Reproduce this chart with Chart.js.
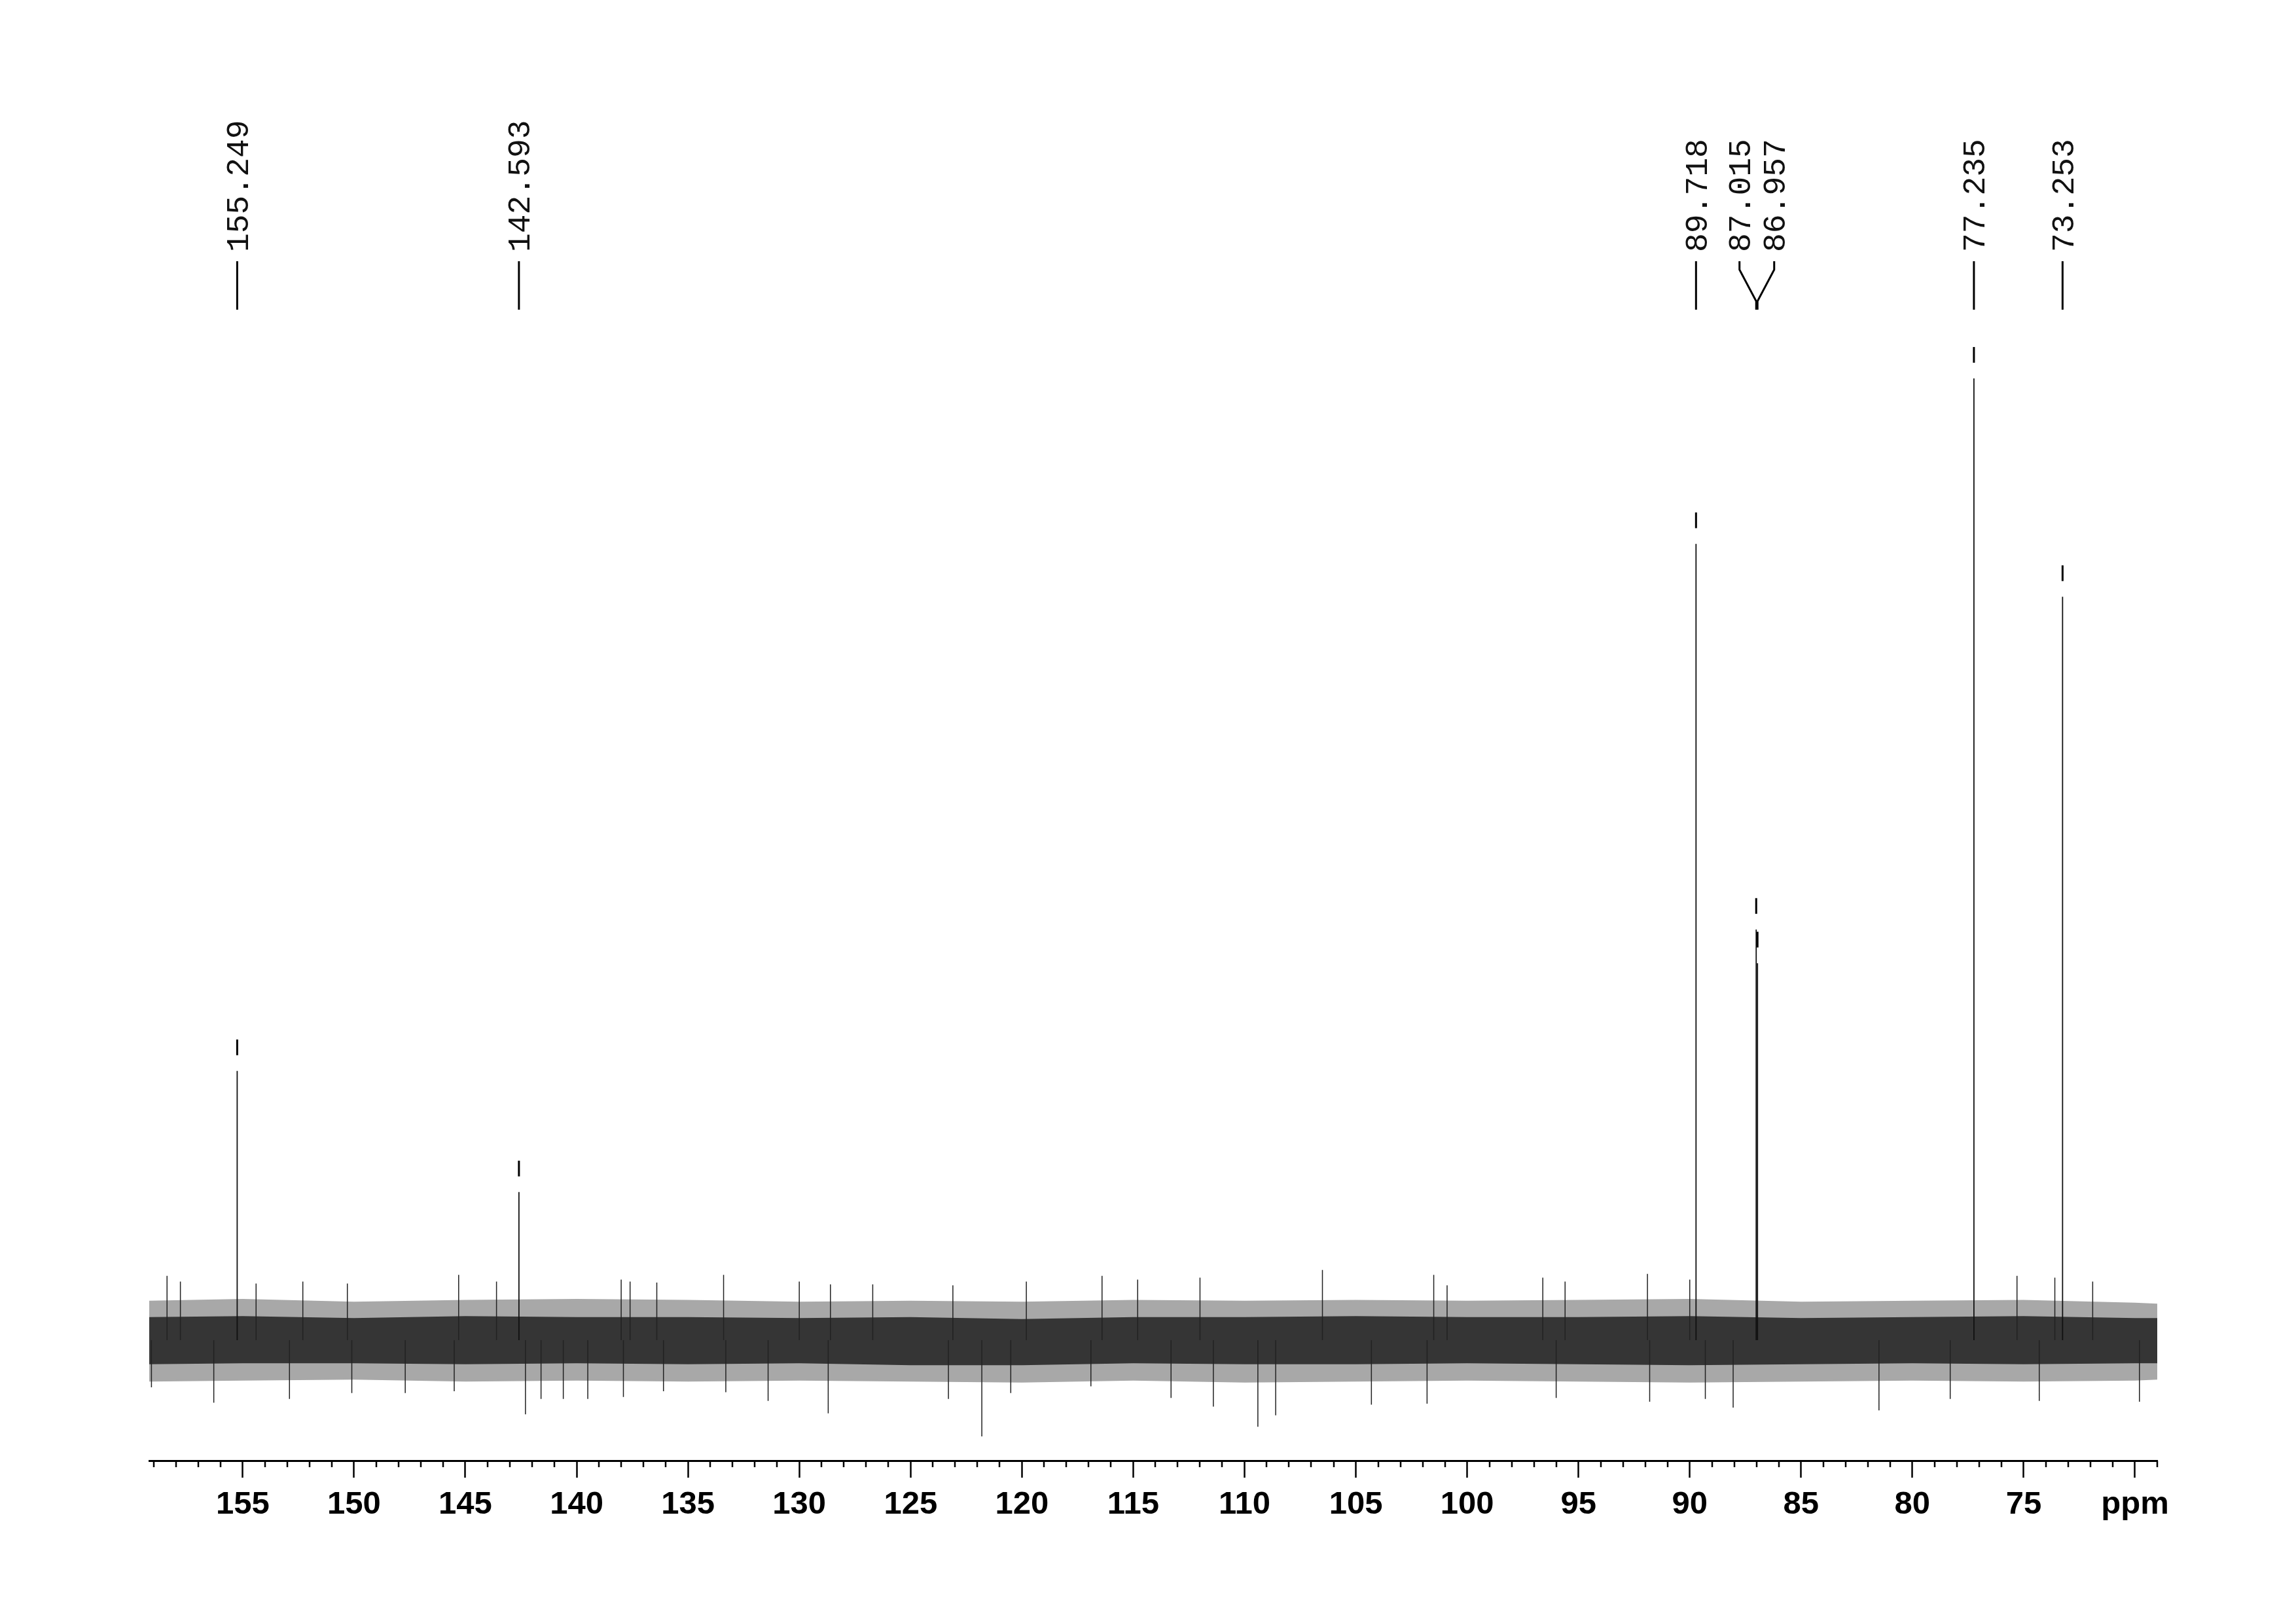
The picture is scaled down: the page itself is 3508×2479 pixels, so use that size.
<!DOCTYPE html>
<html>
<head>
<meta charset="utf-8">
<script src="https://cdn.jsdelivr.net/npm/chart.js@4.4.1/dist/chart.umd.min.js"></script>
<style>
  html, body { margin: 0; padding: 0; background: #fff; }
  canvas { display: block; }
</style>
</head>
<body>
<canvas id="nmr" width="3508" height="2479"></canvas>
<script>
// picked peaks (ppm) and their heights, 77.235 peak = 100
const peakPpm = [155.249, 142.593, 89.718, 87.015, 86.957, 77.235, 73.253];
const peakHeight = [28.0, 15.4, 82.8, 42.7, 39.2, 100, 77.3];
const peakLabels = ["155.249", "142.593", "89.718", "87.015", "86.957", "77.235", "73.253"];

// baseline noise envelope, read every 5 ppm
const noisePpm = [159.2, 155, 150, 145, 140, 135, 130, 125, 120, 115, 110, 105, 100, 95, 90, 85, 80, 75, 70, 69.0];
const outerHi = [4.1, 4.3, 4.0, 4.2, 4.3, 4.2, 4.0, 4.1, 4.0, 4.2, 4.1, 4.2, 4.1, 4.2, 4.3, 4.0, 4.1, 4.2, 3.9, 3.8];
const outerLo = [-4.3, -4.2, -4.1, -4.3, -4.2, -4.3, -4.2, -4.3, -4.4, -4.2, -4.4, -4.3, -4.2, -4.3, -4.4, -4.3, -4.2, -4.3, -4.2, -4.1];
const coreHi = [2.4, 2.5, 2.3, 2.5, 2.4, 2.4, 2.3, 2.4, 2.2, 2.4, 2.4, 2.5, 2.4, 2.4, 2.5, 2.3, 2.4, 2.5, 2.3, 2.3];
const coreLo = [-2.5, -2.4, -2.4, -2.5, -2.4, -2.5, -2.4, -2.6, -2.6, -2.4, -2.5, -2.5, -2.4, -2.5, -2.6, -2.5, -2.4, -2.5, -2.4, -2.4];

// single noise spikes that stick out of the band
const spikePpm = [158.4, 157.8, 154.4, 152.3, 150.3, 145.3, 143.6, 138.0, 137.6, 136.4, 133.4, 130.0, 128.6, 126.7, 123.1,
  119.8, 116.4, 114.8, 112.0, 106.5, 101.5, 100.9, 96.6, 95.6, 91.9, 90.0, 75.3, 73.6, 71.9,
  159.1, 156.3, 152.9, 150.1, 147.7, 145.5, 142.3, 141.6, 140.6, 139.5, 137.9, 136.1, 133.3, 131.4, 128.7, 123.3,
  121.8, 120.5, 116.9, 113.3, 111.4, 109.4, 108.6, 104.3, 101.8, 96.0, 91.8, 89.3, 88.05, 81.5, 78.3, 74.3, 69.8];
const spikeValue = [6.7, 6.1, 5.9, 6.1, 5.9, 6.8, 6.1, 6.3, 6.1, 6.0, 6.8, 6.1, 5.8, 5.8, 5.7,
  6.1, 6.7, 6.3, 6.5, 7.3, 6.8, 5.7, 6.5, 6.1, 6.9, 6.3, 6.7, 6.5, 6.1,
  -4.9, -6.5, -6.1, -5.5, -5.5, -5.3, -7.7, -6.1, -6.1, -6.1, -5.9, -5.3, -5.4, -6.3, -7.6, -6.1,
  -10.0, -5.5, -4.8, -6.0, -6.9, -9.0, -7.8, -6.7, -6.6, -6.0, -6.4, -6.1, -7.0, -7.3, -6.1, -6.3, -6.4];

const tickValues = [155, 150, 145, 140, 135, 130, 125, 120, 115, 110, 105, 100, 95, 90, 85, 80, 75, 70];

const band = (hi) => noisePpm.map((p, i) => ({ x: p, y: hi[i] }));
const sticks = (xs, ys) => {
  const pts = [];
  xs.forEach((p, i) => {
    pts.push({ x: p, y: 0 }, { x: p, y: ys[i] }, { x: p, y: null });
  });
  return pts;
};

// minor ticks every 1 ppm under the axis line
const minorTicks = {
  id: "minorTicks",
  afterDraw(chart) {
    const ctx = chart.ctx;
    const sx = chart.scales.x;
    const y0 = chart.chartArea.bottom;
    ctx.save();
    ctx.strokeStyle = "#000";
    ctx.lineWidth = 2.5;
    for (let v = Math.ceil(sx.min); v <= sx.max; v++) {
      if (v % 5 === 0) continue;
      const x = Math.round(sx.getPixelForValue(v));
      ctx.beginPath();
      ctx.moveTo(x, y0);
      ctx.lineTo(x, y0 + 10);
      ctx.stroke();
    }
    ctx.restore();
  },
};

// peak pick marks and rotated ppm labels on top
const peakLabelsPlugin = {
  id: "peakLabels",
  afterDatasetsDraw(chart) {
    const ctx = chart.ctx;
    const sx = chart.scales.x;
    const sy = chart.scales.y;
    const top = chart.chartArea.top;
    const px = peakPpm.map((p) => sx.getPixelForValue(p));

    // marks above each peak
    ctx.save();
    ctx.fillStyle = "#000";
    peakPpm.forEach((p, i) => {
      const yt = sy.getPixelForValue(peakHeight[i]);
      ctx.fillRect(px[i] - 1.5, yt - 48, 3, 24);
    });

    // spread labels that would overlap
    const gap = 53;
    const order = px.map((x, i) => i).sort((a, b) => px[a] - px[b]);
    const lx = px.slice();
    let k = 0;
    while (k < order.length) {
      let j = k;
      while (j + 1 < order.length && px[order[j + 1]] - px[order[j]] < gap) j++;
      const n = j - k + 1;
      if (n > 1) {
        let mean = 0;
        for (let m = k; m <= j; m++) mean += px[order[m]];
        mean /= n;
        for (let m = k; m <= j; m++) lx[order[m]] = mean + (m - k - (n - 1) / 2) * gap;
      }
      k = j + 1;
    }

    ctx.strokeStyle = "#000";
    ctx.fillStyle = "#111";
    ctx.lineWidth = 3;
    const fs = 48;
    ctx.font = fs + 'px "Liberation Mono", "DejaVu Sans Mono", monospace';
    peakPpm.forEach((p, i) => {
      ctx.beginPath();
      if (Math.abs(lx[i] - px[i]) < 1) {
        ctx.moveTo(px[i], top - 74);
        ctx.lineTo(px[i], top);
      } else {
        ctx.moveTo(lx[i], top - 74);
        ctx.lineTo(lx[i], top - 61);
        ctx.lineTo(px[i], top - 13);
        ctx.lineTo(px[i], top);
      }
      ctx.stroke();

      ctx.save();
      ctx.translate(lx[i], top - 88);
      ctx.rotate(-Math.PI / 2);
      ctx.textAlign = "left";
      ctx.textBaseline = "alphabetic";
      ctx.fillText(peakLabels[i], 0, fs * 0.34);
      ctx.restore();
    });
    ctx.restore();
  },
};

new Chart(document.getElementById("nmr"), {
  type: "line",
  data: {
    datasets: [
      { data: band(outerHi), fill: "+1", backgroundColor: "#a8a8a8", borderWidth: 0, order: 5 },
      { data: band(outerLo), fill: false, borderWidth: 0, order: 5 },
      { data: band(coreHi), fill: "+1", backgroundColor: "#353535", borderWidth: 0, order: 4 },
      { data: band(coreLo), fill: false, borderWidth: 0, order: 4 },
      { data: sticks(spikePpm, spikeValue), borderColor: "#222", borderWidth: 1.5, spanGaps: false, order: 3 },
      { data: sticks(peakPpm, peakHeight), borderColor: "#111", borderWidth: 1.8, spanGaps: false, order: 1 },
    ],
  },
  options: {
    responsive: false,
    animation: false,
    devicePixelRatio: 1,
    elements: { point: { radius: 0 }, line: { tension: 0 } },
    layout: { padding: { left: 228, right: 212, top: 473, bottom: 0 } },
    plugins: { legend: { display: false }, tooltip: { enabled: false } },
    scales: {
      x: {
        type: "linear",
        reverse: true,
        min: 69.0,
        max: 159.2,
        afterBuildTicks: (s) => {
          s.ticks = tickValues.map((v) => ({ value: v }));
        },
        afterFit: (s) => {
          s.height = 248;
        },
        ticks: {
          autoSkip: false,
          maxRotation: 0,
          padding: 12,
          color: "#000",
          font: { family: "Liberation Sans", weight: "bold", size: 49 },
          callback: (v) => (v === 70 ? "ppm" : String(v)),
        },
        grid: { drawOnChartArea: false, drawTicks: true, tickLength: 26, tickWidth: 2.5, tickColor: "#000" },
        border: { display: true, color: "#000", width: 3 },
      },
      y: { display: false, min: -12.52, max: 107.15 },
    },
  },
  plugins: [minorTicks, peakLabelsPlugin],
});
</script>
</body>
</html>
